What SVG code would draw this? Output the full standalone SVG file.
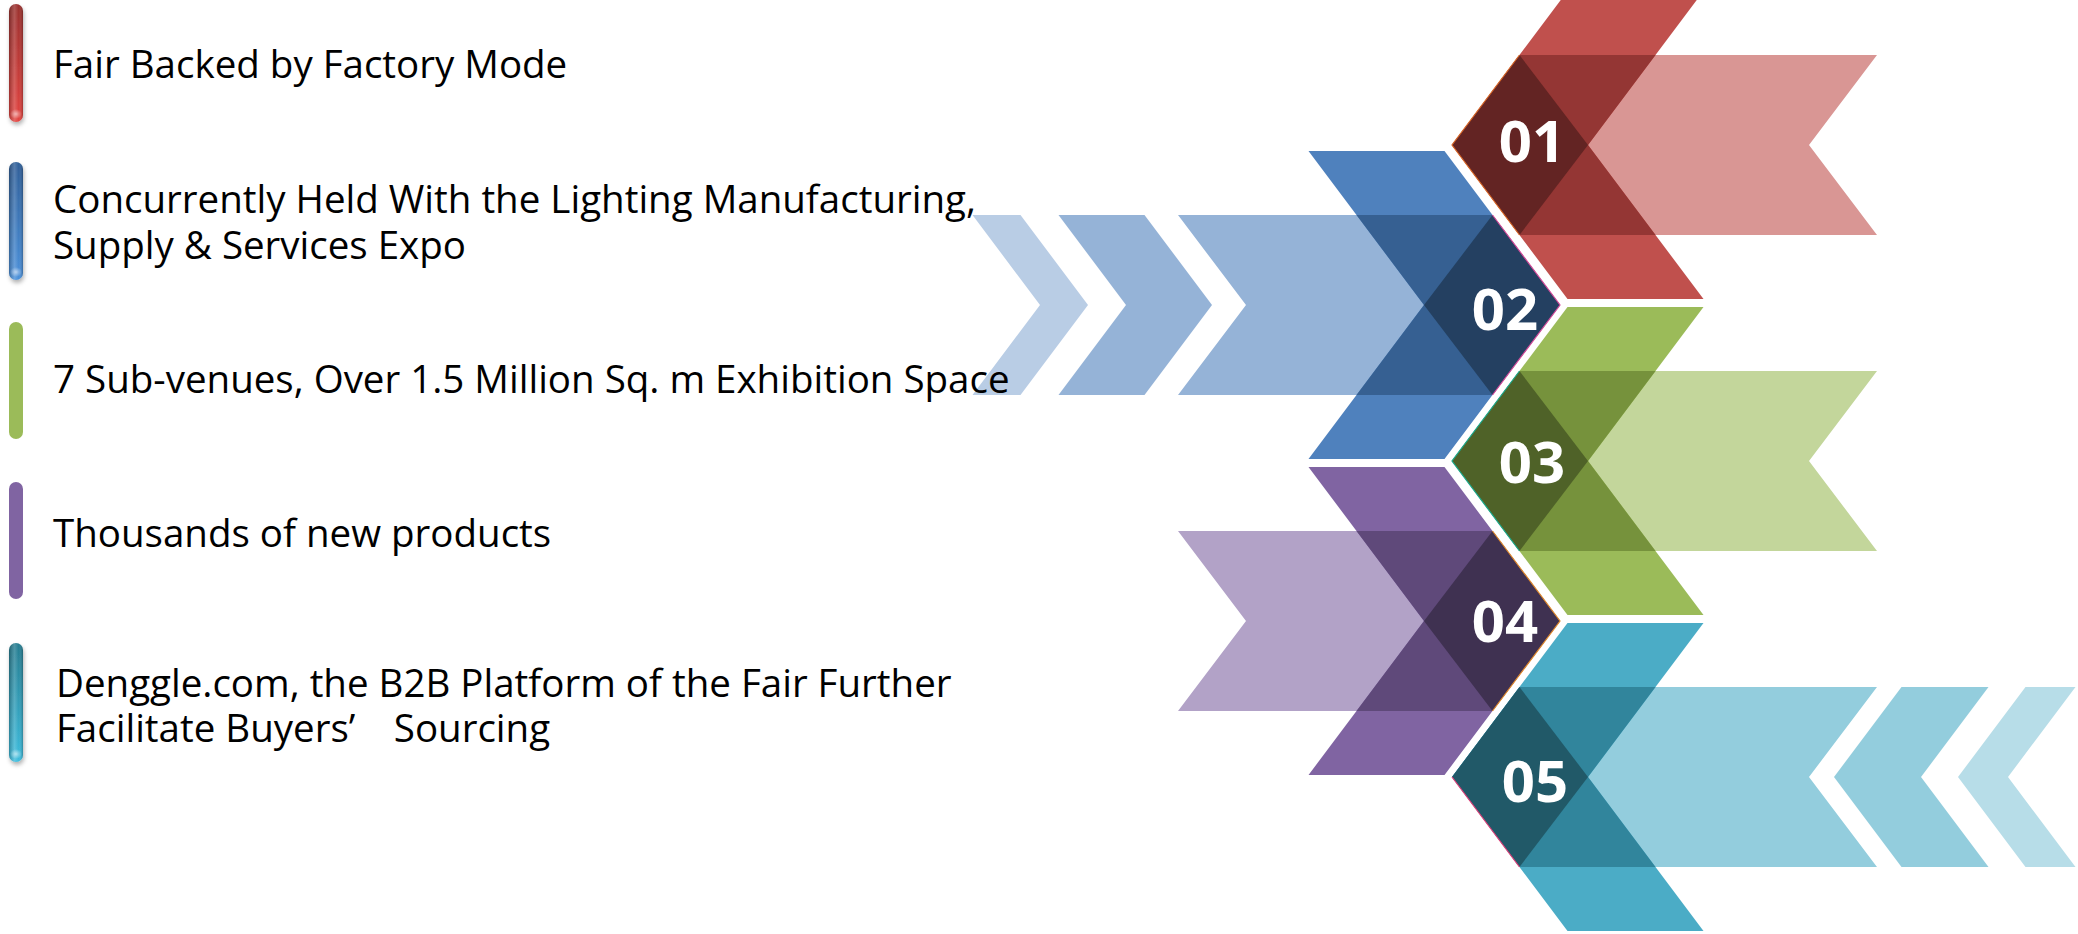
<svg xmlns="http://www.w3.org/2000/svg" width="2078" height="934" viewBox="0 0 2078 934">
<defs>
  <style>
    .lbl { font-family: "Open Sans", "Noto Sans", "Noto Sans CJK SC", sans-serif; font-size: 38.5px; fill: #000; }
    .num { font-family: "Open Sans", "Noto Sans", sans-serif; font-size: 58px; font-weight: bold; fill: #fff; text-anchor: middle; }
  </style>
  <linearGradient id="gRed" x1="0" y1="0" x2="0" y2="1">
    <stop offset="0" stop-color="#9A2F2D"/>
    <stop offset="1" stop-color="#E2433F"/>
  </linearGradient>
  <linearGradient id="gBlue" x1="0" y1="0" x2="0" y2="1">
    <stop offset="0" stop-color="#2E5E98"/>
    <stop offset="1" stop-color="#4A90DA"/>
  </linearGradient>
  <linearGradient id="gTeal" x1="0" y1="0" x2="0" y2="1">
    <stop offset="0" stop-color="#267C90"/>
    <stop offset="1" stop-color="#3CBCDD"/>
  </linearGradient>
  <linearGradient id="gShine" x1="0" y1="0" x2="1" y2="0">
    <stop offset="0" stop-color="#000" stop-opacity="0.25"/>
    <stop offset="0.4" stop-color="#fff" stop-opacity="0.18"/>
    <stop offset="0.7" stop-color="#fff" stop-opacity="0"/>
    <stop offset="1" stop-color="#000" stop-opacity="0.25"/>
  </linearGradient>
  <radialGradient id="gGlow" cx="0.5" cy="0.5" r="0.5">
    <stop offset="0" stop-color="#fff" stop-opacity="0.55"/>
    <stop offset="1" stop-color="#fff" stop-opacity="0"/>
  </radialGradient>
  <filter id="sh" x="-100%" y="-20%" width="300%" height="140%">
    <feDropShadow dx="1" dy="3" stdDeviation="2" flood-color="#000" flood-opacity="0.3"/>
  </filter>
</defs>
<rect width="2078" height="934" fill="#fff"/>

<!-- Band 01 red -->
<g id="band01">
  <polygon points="1519.5,55 1877,55 1809,145 1877,235 1519.5,235 1452,145" fill="#D99694"/>
  <polygon points="1452,145 1567.5,-9 1703.5,-9 1588,145 1703.5,299 1567.5,299" fill="#C0504D"/>
  <polygon points="1452,145 1519.5,55 1655.5,55 1588,145 1655.5,235 1519.5,235" fill="#943634"/>
  <polygon points="1452,145 1519.5,55 1588,145 1519.5,235" fill="#632423"/>
  <polyline points="1519.5,55 1452,145 1519.5,235" fill="none" stroke="#D8692A" stroke-width="1.2"/>
  <text class="num" x="1532" y="162">01</text>
</g>

<!-- Band 02 blue -->
<g id="band02">
  <polygon points="1088,305 1020.5,215 972.5,215 1040,305 972.5,395 1020.5,395" fill="#B9CDE5"/>
  <polygon points="1212,305 1144.5,215 1058.5,215 1126,305 1058.5,395 1144.5,395" fill="#95B3D7"/>
  <polygon points="1178,215 1492.5,215 1560,305 1492.5,395 1178,395 1246,305" fill="#95B3D7"/>
  <polygon points="1560,305 1444.5,151 1308.5,151 1424,305 1308.5,459 1444.5,459" fill="#4F81BD"/>
  <polygon points="1560,305 1492.5,215 1356.5,215 1424,305 1356.5,395 1492.5,395" fill="#366092"/>
  <polygon points="1560,305 1492.5,215 1424,305 1492.5,395" fill="#244061"/>
  <polyline points="1492.5,215 1560,305 1492.5,395" fill="none" stroke="#D64C9A" stroke-width="1.2"/>
  <text class="num" x="1505" y="330">02</text>
</g>

<!-- Band 03 green -->
<g id="band03">
  <polygon points="1519.5,371 1877,371 1809,461 1877,551 1519.5,551 1452,461" fill="#C3D69B"/>
  <polygon points="1452,461 1567.5,307 1703.5,307 1588,461 1703.5,615 1567.5,615" fill="#9BBB59"/>
  <polygon points="1452,461 1519.5,371 1655.5,371 1588,461 1655.5,551 1519.5,551" fill="#76923C"/>
  <polygon points="1452,461 1519.5,371 1588,461 1519.5,551" fill="#4F6228"/>
  <polyline points="1519.5,371 1452,461 1519.5,551" fill="none" stroke="#1BA98E" stroke-width="1.2"/>
  <text class="num" x="1532" y="483">03</text>
</g>

<!-- Band 04 purple -->
<g id="band04">
  <polygon points="1178,531 1492.5,531 1560,621 1492.5,711 1178,711 1246,621" fill="#B2A2C7"/>
  <polygon points="1560,621 1444.5,467 1308.5,467 1424,621 1308.5,775 1444.5,775" fill="#8064A2"/>
  <polygon points="1560,621 1492.5,531 1356.5,531 1424,621 1356.5,711 1492.5,711" fill="#5F497A"/>
  <polygon points="1560,621 1492.5,531 1424,621 1492.5,711" fill="#3F3151"/>
  <polyline points="1492.5,531 1560,621 1492.5,711" fill="none" stroke="#E08A2E" stroke-width="1.2"/>
  <text class="num" x="1505" y="642">04</text>
</g>

<!-- Band 05 teal -->
<g id="band05">
  <polygon points="1958,777 2025.5,687 2075.5,687 2008,777 2075.5,867 2025.5,867" fill="#B7DDE8"/>
  <polygon points="1834,777 1901.5,687 1988.5,687 1921,777 1988.5,867 1901.5,867" fill="#93CDDD"/>
  <polygon points="1519.5,687 1877,687 1809,777 1877,867 1519.5,867 1452,777" fill="#93CDDD"/>
  <polygon points="1452,777 1567.5,623 1703.5,623 1588,777 1703.5,931 1567.5,931" fill="#4BACC6"/>
  <polygon points="1452,777 1519.5,687 1655.5,687 1588,777 1655.5,867 1519.5,867" fill="#31859C"/>
  <polygon points="1452,777 1519.5,687 1588,777 1519.5,867" fill="#215968"/>
  <polyline points="1452,777 1519.5,867" fill="none" stroke="#E0407A" stroke-width="1.2"/>
  <text class="num" x="1535" y="802">05</text>
</g>

<!-- Left list -->
<g id="item1">
  <rect x="9" y="4" width="14" height="118" rx="7" fill="url(#gRed)" filter="url(#sh)"/>
  <rect x="9" y="4" width="14" height="118" rx="7" fill="url(#gShine)"/>
  <ellipse cx="16" cy="114" rx="6" ry="5" fill="url(#gGlow)"/>
  <text class="lbl" x="53" y="78">Fair Backed by Factory Mode</text>
</g>
<g id="item2">
  <rect x="9" y="162" width="14" height="118" rx="7" fill="url(#gBlue)" filter="url(#sh)"/>
  <rect x="9" y="162" width="14" height="118" rx="7" fill="url(#gShine)"/>
  <ellipse cx="16" cy="272" rx="6" ry="5" fill="url(#gGlow)"/>
  <text class="lbl" x="53" y="213">Concurrently Held With the Lighting Manufacturing,<tspan x="53" dy="46">Supply &amp; Services Expo</tspan></text>
</g>
<g id="item3">
  <rect x="9" y="322" width="14" height="117" rx="7" fill="#9BBB59"/>
  <text class="lbl" x="53" y="393">7 Sub-venues, Over 1.5 Million Sq. m Exhibition Space</text>
</g>
<g id="item4">
  <rect x="9" y="482" width="14" height="117" rx="7" fill="#8064A2"/>
  <text class="lbl" x="53" y="547">Thousands of new products</text>
</g>
<g id="item5">
  <rect x="9" y="643" width="14" height="119" rx="7" fill="url(#gTeal)" filter="url(#sh)"/>
  <rect x="9" y="643" width="14" height="119" rx="7" fill="url(#gShine)"/>
  <ellipse cx="16" cy="754" rx="6" ry="5" fill="url(#gGlow)"/>
  <text class="lbl" x="56" y="697">Denggle.com, the B2B Platform of the Fair Further<tspan x="56" dy="45">Facilitate Buyers’　Sourcing</tspan></text>
</g>
<g id="connectors"/>
</svg>
